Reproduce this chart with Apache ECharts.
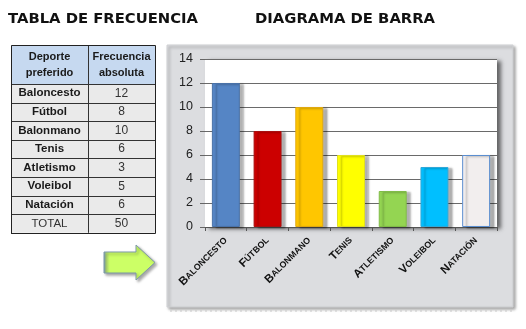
<!DOCTYPE html>
<html><head><meta charset="utf-8">
<script src="https://cdn.jsdelivr.net/npm/echarts@6/dist/echarts.min.js"></script>
<style>html,body{margin:0;padding:0;background:#fff}#c{width:526px;height:329px}</style>
</head><body><div id="c"></div>
<script>
const categories = ['Baloncesto','Fútbol','Balonmano','Tenis','Atletismo','Voleibol','Natación'];
const values = [12, 8, 10, 6, 3, 5, 6];
const yTicks = [0, 2, 4, 6, 8, 10, 12, 14];
const tableHeader = [['Deporte', 'preferido'], ['Frecuencia', 'absoluta']];
const totalLabel = 'TOTAL';
const titleTable = 'TABLA DE FRECUENCIA';
const titleChart = 'DIAGRAMA DE BARRA';

const barColors = ['#5585c5','#cc0000','#ffc600','#ffff00','#94d552','#00bfff','#f2eeee'];
const barBorders = ['#4a72a8','#a81010','#e0a810','#e0e020','#80bb48','#30a8d8','#5b8ed0'];

const chart = echarts.init(document.getElementById('c'), null, {renderer:'canvas'});

const T = {x:11, y:45, c1:77, c2:67, hh:39, rh:18.6};
const P = {x:205, y:59, w:292, h:168};
const g = [];
g.push({type:'rect', shape:{x:167,y:45,width:346,height:262}, style:{fill:'#dcdde0', stroke:'#cfd0d3', lineWidth:1, shadowColor:'rgba(0,0,0,0.35)', shadowBlur:3, shadowOffsetX:2, shadowOffsetY:2}, z:-10});
g.push({type:'line', shape:{x1:170,y1:311,x2:515,y2:311}, style:{stroke:'#c8c8c8', lineWidth:1, lineDash:[2,3]}, z:-10});
g.push({type:'rect', shape:{x:P.x,y:P.y,width:P.w,height:P.h}, style:{fill:'#fff', shadowColor:'rgba(0,0,0,0.55)', shadowBlur:4, shadowOffsetX:4, shadowOffsetY:2}, z:-9});
g.push({type:'text', x:8, y:12, style:{text:titleTable, font:'bold 14.8px "DejaVu Sans"', fill:'#111'}});
g.push({type:'text', x:255, y:12, style:{text:titleChart, font:'bold 14.8px "DejaVu Sans"', fill:'#111'}});
const rows = categories.map((c,i)=>[c, String(values[i])]);
rows.push([totalLabel, String(values.reduce((a,b)=>a+b,0))]);
const tw = T.c1 + T.c2, th = T.hh + rows.length*T.rh;
g.push({type:'rect', shape:{x:T.x,y:T.y,width:tw,height:T.hh}, style:{fill:'#c6d9f0'}});
g.push({type:'rect', shape:{x:T.x,y:T.y+T.hh,width:tw,height:rows.length*T.rh}, style:{fill:'#eaeaea'}});
tableHeader.forEach((h,j)=>{
  const cx = T.x + (j===0 ? T.c1/2 : T.c1 + T.c2/2);
  g.push({type:'text', x:cx, y:T.y+T.hh/2, style:{text:h.join('\n'), font:'bold 11px "Liberation Sans"', fill:'#1a1a1a', align:'center', verticalAlign:'middle', lineHeight:16}});
});
rows.forEach((r,i)=>{
  const cy = T.y + T.hh + T.rh*(i+0.5);
  const isTotal = i === rows.length-1;
  g.push({type:'text', x:T.x+T.c1/2, y:cy, style:{text:r[0], font:(isTotal?'':'bold ')+'11.5px "Liberation Sans"', fill:isTotal?'#333':'#1a1a1a', align:'center', verticalAlign:'middle'}});
  g.push({type:'text', x:T.x+T.c1+T.c2/2, y:cy, style:{text:r[1], font:'12px "Liberation Sans"', fill:'#333', align:'center', verticalAlign:'middle'}});
});
for (let i=0;i<=rows.length;i++){
  const y = Math.round(T.y+T.hh+T.rh*i)+0.5;
  g.push({type:'line', shape:{x1:T.x,y1:y,x2:T.x+tw,y2:y}, style:{stroke:'#333',lineWidth:1}});
}
g.push({type:'line', shape:{x1:T.x+T.c1+0.5,y1:T.y,x2:T.x+T.c1+0.5,y2:T.y+th}, style:{stroke:'#333',lineWidth:1}});
g.push({type:'rect', shape:{x:T.x+0.5,y:T.y+0.5,width:tw,height:Math.round(th)}, style:{fill:'none',stroke:'#222',lineWidth:1}});
g.push({type:'polygon', shape:{points:[[104,252],[136,252],[136,245],[155,262.5],[136,280],[136,273],[104,273]]},
  style:{fill:{type:'linear',x:0,y:0,x2:1,y2:0,colorStops:[{offset:0,color:'#6f94b8'},{offset:0.06,color:'#b8e070'},{offset:0.12,color:'#ccff66'},{offset:1,color:'#ccff66'}]},
  stroke:'#7d98a8', lineWidth:1, shadowColor:'rgba(0,0,0,0.35)', shadowBlur:3, shadowOffsetX:2, shadowOffsetY:2}});

chart.setOption({
  animation:false,
  graphic: g,
  grid:{left:P.x, top:P.y, width:P.w, height:P.h, show:false},
  xAxis:{type:'category', data:categories,
    axisLine:{lineStyle:{color:'#555', width:1}},
    axisTick:{show:true, length:4, lineStyle:{color:'#555'}},
    axisLabel:{rotate:45, margin:12, interval:0,
      formatter: v => '{a|'+v[0].toUpperCase()+'}{b|'+v.slice(1).toUpperCase()+'}',
      rich:{a:{fontSize:11.5, fontWeight:'bold', fontFamily:'Liberation Sans', color:'#111'},
            b:{fontSize:8.8, fontWeight:'bold', fontFamily:'Liberation Sans', color:'#111'}}}},
  yAxis:{type:'value', min:yTicks[0], max:yTicks[yTicks.length-1], interval:2,
    axisLine:{show:false},
    axisTick:{show:true, length:5, lineStyle:{color:'#666'}},
    splitLine:{lineStyle:{color:'#6a6a6a', width:1}},
    axisLabel:{margin:12, fontSize:12.5, fontFamily:'Liberation Sans', color:'#222'}},
  series:[{type:'bar', data: values.map((v,i)=>({value:v, itemStyle:{color:barColors[i], borderColor:barBorders[i]}})),
    barWidth:'67%',
    itemStyle:{borderWidth:1, shadowColor:'rgba(0,0,0,0.3)', shadowBlur:2, shadowOffsetX:4, shadowOffsetY:1}}]
});
</script></body></html>
